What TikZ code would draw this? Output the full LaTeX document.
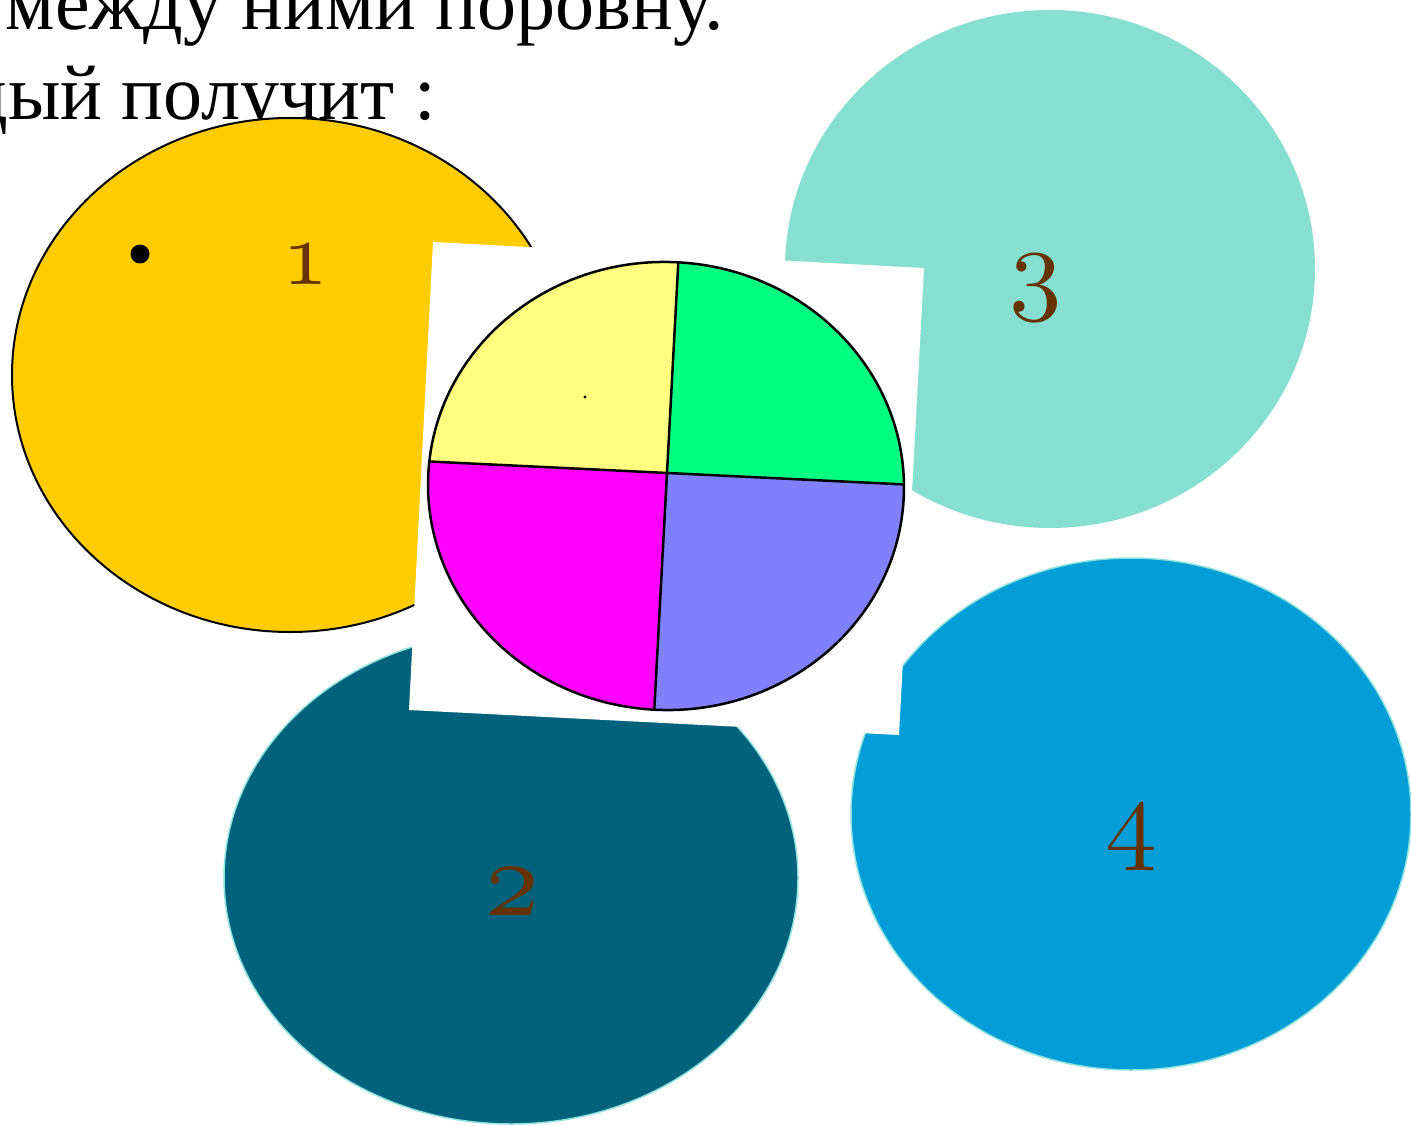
\documentclass[tikz,border=0pt]{standalone}
\usepackage{fontspec}
\setmainfont{Liberation Serif}
\definecolor{yel}{HTML}{FFCC00}
\definecolor{aqua}{HTML}{86DFD1}
\definecolor{deepteal}{HTML}{03627B}
\definecolor{skyb}{HTML}{039DD8}
\definecolor{rimc}{HTML}{8FE3DF}
\definecolor{numc}{HTML}{663300}
\definecolor{qy}{HTML}{FFFF80}
\definecolor{qg}{HTML}{00FF80}
\definecolor{qm}{HTML}{FF00FF}
\definecolor{qb}{HTML}{8080FF}
\newcommand{\olddigit}[2]{\scalebox{#1}{\usefont{OML}{cmm}{m}{it}#2}}
\begin{document}
\begin{tikzpicture}[x=1pt,y=-1pt,
  num/.style={text=numc,inner sep=0pt},
  headline/.style={anchor=base east,inner sep=0pt,font=\fontsize{78}{94}\selectfont},
  rim/.style={draw=rimc,line width=1.5pt},
  piesep/.style={draw=black,line width=2.5pt}]
\useasboundingbox (0,0) rectangle (1411,1126);
\clip (0,0) rectangle (1411,1126);
\fill[white] (0,0) rectangle (1411,1126);

% heading text (cut at the left edge, as in the reference)
\node[headline] (l1) at (724,30) {между ними поровну.};
\node[headline] (l2) at (436,120) {дый получит :};

% circles
\draw[fill=yel,line width=2pt] (290,375) ellipse [x radius=278pt,y radius=257pt];
\fill[aqua] (1050,269) ellipse [x radius=265pt,y radius=259pt];
\draw[fill=deepteal,rim] (511,878) ellipse [x radius=287pt,y radius=246pt];
\draw[fill=skyb,rim] (1131,814) ellipse [x radius=280pt,y radius=256pt];

% bullet and labels
\fill[black] (140,254) circle [radius=9.5pt];
\node[num] (n1) at (305,265) {\olddigit{9.2}{1}};
\node[num] (n3) at (1036,288) {\olddigit{10.5}{3}};
\node[num] (n4) at (1131,838) {\olddigit{10.4}{4}};
\node[num] (n2) at (512,892) {\olddigit{10.8}{2}};

% white picture card
\fill[white] (433,242) -- (924,268) -- (899,735) -- (409,710) -- cycle;

% pie
\coordinate (pc) at (667,473);
\coordinate (pt) at (679.5,240);
\coordinate (pb) at (653.2,730);
\coordinate (pl) at (415,460.8);
\coordinate (pr) at (920,485.2);
\begin{scope}
\clip[rotate around={-3:(666,486)}] (666,486) ellipse [x radius=238pt,y radius=224pt];
\fill[qy] (pc) -- (pt) -- (415,240) -- (pl) -- cycle;
\fill[qg] (pc) -- (pt) -- (920,240) -- (pr) -- cycle;
\fill[qm] (pc) -- (pl) -- (415,730) -- (pb) -- cycle;
\fill[qb] (pc) -- (pr) -- (920,730) -- (pb) -- cycle;
\draw[piesep] (pt) -- (pb);
\draw[piesep] (pl) -- (pr);
\end{scope}
\draw[piesep,rotate around={-3:(666,486)}] (666,486) ellipse [x radius=238pt,y radius=224pt];
\fill[black] (585,397) circle [radius=1.6pt];
\end{tikzpicture}
\end{document}
